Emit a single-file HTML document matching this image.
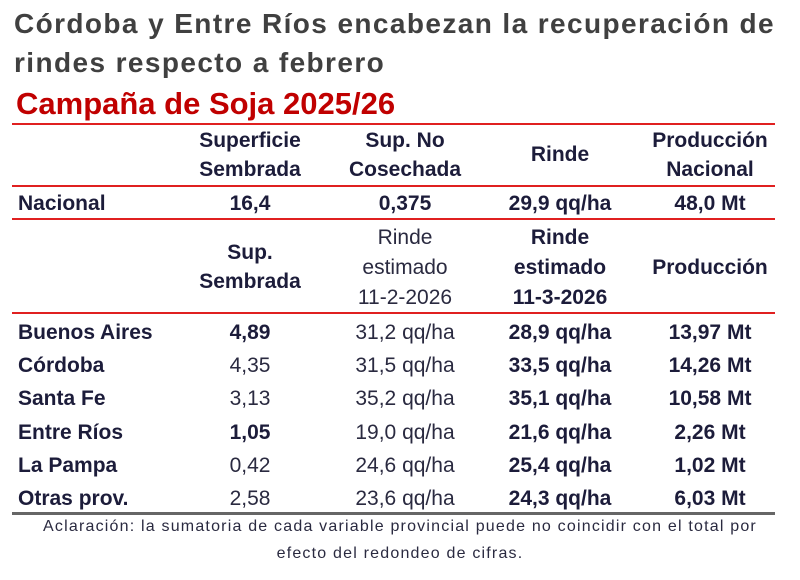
<!DOCTYPE html>
<html><head><meta charset="utf-8"><style>
body{margin:0;width:800px;height:580px;background:#fff;position:relative;overflow:hidden;font-family:"Liberation Sans","DejaVu Sans",sans-serif;}
.t{position:absolute;white-space:nowrap;line-height:24px;height:24px;font-size:21px;color:#1c1c3a;}
.c{width:200px;text-align:center;}
.b{font-weight:bold;}
.n{font-weight:normal;color:#2a2a40;}
.l{position:absolute;left:12px;width:763px;height:2px;background:#e02020;}
h1{position:absolute;left:14px;top:4px;margin:0;font-size:28px;line-height:39px;color:#404040;font-weight:bold;letter-spacing:1.4px;}
.r{position:absolute;left:16px;top:85px;font-size:31px;line-height:38px;font-weight:bold;color:#c00000;}
</style></head><body>
<h1>Córdoba y Entre Ríos encabezan la recuperación de<br>rindes respecto a febrero</h1>
<div class="r">Campaña de Soja 2025/26</div>
<div class="l" style="top:123px"></div>
<div class="l" style="top:185px"></div>
<div class="l" style="top:218px"></div>
<div class="l" style="top:312px"></div>
<div class="l" style="top:512px;background:#666;height:3px"></div>

<div class="t c b" style="left:150px;top:129px">Superficie</div>
<div class="t c b" style="left:150px;top:158px">Sembrada</div>
<div class="t c b" style="left:305px;top:129px">Sup. No</div>
<div class="t c b" style="left:305px;top:158px">Cosechada</div>
<div class="t c b" style="left:460px;top:143px">Rinde</div>
<div class="t c b" style="left:610px;top:129px">Producción</div>
<div class="t c b" style="left:610px;top:158px">Nacional</div>

<div class="t b" style="left:18px;top:192px">Nacional</div>
<div class="t c b" style="left:150px;top:192px">16,4</div>
<div class="t c b" style="left:305px;top:192px">0,375</div>
<div class="t c b" style="left:460px;top:192px">29,9 qq/ha</div>
<div class="t c b" style="left:610px;top:192px">48,0 Mt</div>

<div class="t c b" style="left:150px;top:241px">Sup.</div>
<div class="t c b" style="left:150px;top:270px">Sembrada</div>
<div class="t c n" style="left:305px;top:226px">Rinde</div>
<div class="t c n" style="left:305px;top:256px">estimado</div>
<div class="t c n" style="left:305px;top:286px">11-2-2026</div>
<div class="t c b" style="left:460px;top:226px">Rinde</div>
<div class="t c b" style="left:460px;top:256px">estimado</div>
<div class="t c b" style="left:460px;top:286px">11-3-2026</div>
<div class="t c b" style="left:610px;top:256px">Producción</div>

<div class="t b" style="left:18px;top:321px">Buenos Aires</div>
<div class="t c b" style="left:150px;top:321px">4,89</div>
<div class="t c n" style="left:305px;top:321px">31,2 qq/ha</div>
<div class="t c b" style="left:460px;top:321px">28,9 qq/ha</div>
<div class="t c b" style="left:610px;top:321px">13,97 Mt</div>

<div class="t b" style="left:18px;top:354px">Córdoba</div>
<div class="t c n" style="left:150px;top:354px">4,35</div>
<div class="t c n" style="left:305px;top:354px">31,5 qq/ha</div>
<div class="t c b" style="left:460px;top:354px">33,5 qq/ha</div>
<div class="t c b" style="left:610px;top:354px">14,26 Mt</div>

<div class="t b" style="left:18px;top:387px">Santa Fe</div>
<div class="t c n" style="left:150px;top:387px">3,13</div>
<div class="t c n" style="left:305px;top:387px">35,2 qq/ha</div>
<div class="t c b" style="left:460px;top:387px">35,1 qq/ha</div>
<div class="t c b" style="left:610px;top:387px">10,58 Mt</div>

<div class="t b" style="left:18px;top:421px">Entre Ríos</div>
<div class="t c b" style="left:150px;top:421px">1,05</div>
<div class="t c n" style="left:305px;top:421px">19,0 qq/ha</div>
<div class="t c b" style="left:460px;top:421px">21,6 qq/ha</div>
<div class="t c b" style="left:610px;top:421px">2,26 Mt</div>

<div class="t b" style="left:18px;top:454px">La Pampa</div>
<div class="t c n" style="left:150px;top:454px">0,42</div>
<div class="t c n" style="left:305px;top:454px">24,6 qq/ha</div>
<div class="t c b" style="left:460px;top:454px">25,4 qq/ha</div>
<div class="t c b" style="left:610px;top:454px">1,02 Mt</div>

<div class="t b" style="left:18px;top:487px">Otras prov.</div>
<div class="t c n" style="left:150px;top:487px">2,58</div>
<div class="t c n" style="left:305px;top:487px">23,6 qq/ha</div>
<div class="t c b" style="left:460px;top:487px">24,3 qq/ha</div>
<div class="t c b" style="left:610px;top:487px">6,03 Mt</div>

<div class="t n" style="left:0;width:800px;text-align:center;top:515px;font-size:16px;letter-spacing:1.2px;">Aclaración: la sumatoria de cada variable provincial puede no coincidir con el total por</div>
<div class="t n" style="left:0;width:800px;text-align:center;top:542px;font-size:16px;letter-spacing:1.2px;">efecto del redondeo de cifras.</div>
</body></html>
